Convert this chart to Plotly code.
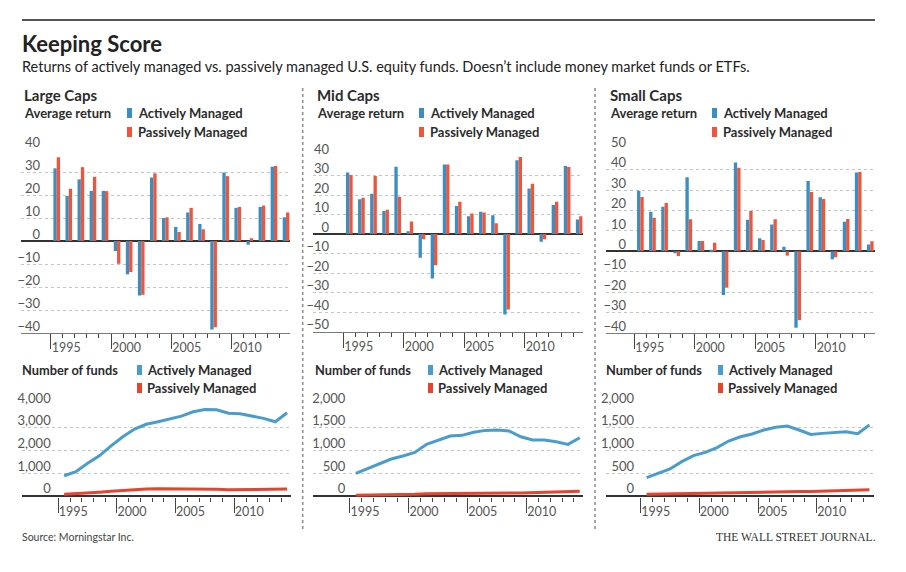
import plotly.graph_objects as go

# ---------------- data ----------------
years = list(range(1995, 2015))
label_years = [1995, 2000, 2005, 2010]

large_active_ret = [31.6, 19.6, 26.8, 21.8, 21.8, -4.4, -14.5, -23.7, 27.6, 10.0, 6.1, 12.4, 7.4, -38.5, 29.8, 14.4, -1.6, 14.8, 32.3, 10.3]
large_passive_ret = [36.4, 22.7, 32.1, 27.9, 21.7, -9.9, -13.5, -23.4, 29.4, 10.3, 3.9, 14.4, 5.1, -37.5, 28.2, 14.8, 1.2, 15.4, 32.6, 12.4]
mid_active_ret = [31.5, 17.8, 20.7, 11.8, 34.5, 1.5, -12.1, -22.7, 35.7, 14.4, 9.1, 11.5, 9.6, -41.2, 37.8, 23.4, -3.9, 14.9, 34.9, 7.5]
mid_passive_ret = [30.3, 18.6, 29.7, 12.5, 19.1, 6.5, -2.7, -15.9, 35.7, 16.6, 10.6, 11.1, 5.5, -38.6, 39.5, 25.8, -2.7, 16.6, 34.4, 9.2]
small_active_ret = [29.7, 19.4, 21.9, -0.7, 36.3, 5.1, 0.8, -21.4, 43.5, 15.5, 6.4, 13.2, 2.3, -37.4, 34.5, 26.5, -3.9, 14.5, 38.6, 3.3]
small_passive_ret = [26.6, 16.5, 23.7, -2.3, 15.7, 5.1, 4.2, -17.8, 41.0, 19.8, 5.6, 15.7, -2.1, -33.7, 29.1, 25.7, -2.9, 15.8, 38.9, 4.9]

large_active_funds = [880, 1060, 1430, 1760, 2200, 2600, 2940, 3150, 3260, 3380, 3510, 3700, 3800, 3790, 3640, 3610, 3510, 3410, 3260, 3660]
large_passive_funds = [60, 80, 110, 150, 190, 230, 270, 290, 300, 300, 300, 300, 310, 280, 260, 260, 260, 260, 270, 290]
mid_active_funds = [492, 603, 698, 808, 875, 955, 1132, 1220, 1316, 1330, 1397, 1440, 1448, 1426, 1300, 1227, 1227, 1190, 1132, 1279]
mid_passive_funds = [10, 12, 15, 20, 25, 30, 40, 45, 50, 55, 55, 60, 60, 60, 60, 65, 70, 80, 90, 100]
small_active_funds = [397, 492, 588, 750, 882, 955, 1059, 1205, 1300, 1360, 1448, 1507, 1536, 1448, 1352, 1374, 1396, 1411, 1367, 1558]
small_passive_funds = [30, 35, 40, 50, 55, 60, 65, 75, 80, 85, 90, 95, 100, 90, 90, 95, 100, 110, 120, 130]

panel_titles = ["Large Caps", "Mid Caps", "Small Caps"]
series_names = ["Actively Managed", "Passively Managed"]

# ---------------- styling ----------------
W, H = 906, 572
def fx(px): return px / W
def fy(py): return 1 - py / H

BLUE = "#3a8ec2"
RED = "#f1533b"
LBLUE = "#4a9dcb"
LRED = "#e8432d"
TXT = "#2b2b2b"
TICK = "#555555"
GRID = "#c4c4c4"
FONT = "Lato"

fig = go.Figure()

bar_sets = [(large_active_ret, large_passive_ret), (mid_active_ret, mid_passive_ret), (small_active_ret, small_passive_ret)]
fund_sets = [(large_active_funds, large_passive_funds), (mid_active_funds, mid_passive_funds), (small_active_funds, small_passive_funds)]

# layout geometry per column (pixels)
bar_geo = [
    dict(xl=21, xr=290, xrange=[1992.04, 2014.33], ytop=149, ybot=333, yrange=[-40, 40], stand=-20),
    dict(xl=313, xr=582.7, xrange=[1992.0, 2014.29], ytop=156, ybot=331.7, yrange=[-50, 40], stand=-17),
    dict(xl=606, xr=875, xrange=[1992.16, 2014.39], ytop=149.3, ybot=333, yrange=[-40, 50], stand=-21),
]
line_geo = [
    dict(xl=21.7, xr=290.7, xrange=[1991.38, 2014.31], ytop=405, ybot=496.8, yrange=[-50, 4000], dtick=1000, stand=-30),
    dict(xl=313.3, xr=583.3, xrange=[1991.39, 2014.3], ytop=405, ybot=496.8, yrange=[-25, 2000], dtick=500, stand=-33),
    dict(xl=606, xr=874, xrange=[1991.54, 2014.39], ytop=405, ybot=496.8, yrange=[-25, 2000], dtick=500, stand=-29),
]

major_ticks = [y - 0.5 for y in label_years]
minor_ticks = [y - 0.5 for y in years]

def xaxis_cfg(geo, anchor, showline):
    return dict(
        domain=[fx(geo["xl"]), fx(geo["xr"])], range=geo["xrange"], anchor=anchor, automargin=False,
        showgrid=False, zeroline=False, showline=showline, linecolor="#7a7a7a", linewidth=1,
        tickmode="array", tickvals=major_ticks, ticktext=[str(y) for y in label_years],
        ticks="outside", ticklen=15, tickwidth=1, tickcolor="#444",
        minor=dict(tickmode="array", tickvals=minor_ticks, ticks="outside", ticklen=4,
                   tickwidth=1, tickcolor="#444", showgrid=False),
        ticklabelposition="outside right", ticklabelstandoff=3, ticklabelshift=0,
        tickfont=dict(family=FONT, size=12.5, color=TICK), fixedrange=True,
    )

def yaxis_cfg(geo, anchor, dtick, fmt=None):
    d = dict(
        domain=[fy(geo["ybot"]), fy(geo["ytop"])], range=geo["yrange"], anchor=anchor, automargin=False,
        tickmode="linear", tick0=0, dtick=dtick,
        showgrid=True, gridcolor=GRID, gridwidth=1, griddash="dot",
        zeroline=True, zerolinecolor="#333", zerolinewidth=1.5,
        showline=False, ticks="",
        ticklabelposition="outside", ticklabelstandoff=geo["stand"], ticklabelshift=-7,
        tickfont=dict(family=FONT, size=13, color=TICK), fixedrange=True,
    )
    if fmt:
        d["tickformat"] = fmt
    return d

layout_axes = {}
for i in range(3):
    bx = f"x{2*i+1}" if i > 0 else "x"
    by = f"y{2*i+1}" if i > 0 else "y"
    lx = f"x{2*i+2}"
    ly = f"y{2*i+2}"
    act, pas = bar_sets[i]
    fig.add_trace(go.Bar(x=years, y=act, name=series_names[0], marker=dict(color=BLUE, line=dict(width=0)),
                         xaxis=bx, yaxis=by, showlegend=False))
    fig.add_trace(go.Bar(x=years, y=pas, name=series_names[1], marker=dict(color=RED, line=dict(width=0)),
                         xaxis=bx, yaxis=by, showlegend=False))
    fa, fp = fund_sets[i]
    fig.add_trace(go.Scatter(x=years, y=fp, mode="lines", name=series_names[1], line=dict(color=LRED, width=3),
                             xaxis=lx, yaxis=ly, showlegend=False))
    fig.add_trace(go.Scatter(x=years, y=fa, mode="lines", name=series_names[0], line=dict(color=LBLUE, width=3),
                             xaxis=lx, yaxis=ly, showlegend=False))

    bxk = "xaxis" if i == 0 else f"xaxis{2*i+1}"
    byk = "yaxis" if i == 0 else f"yaxis{2*i+1}"
    layout_axes[bxk] = xaxis_cfg(bar_geo[i], by, True)
    layout_axes[byk] = yaxis_cfg(bar_geo[i], bx, 10)
    layout_axes[f"xaxis{2*i+2}"] = xaxis_cfg(line_geo[i], ly, False)
    layout_axes[f"yaxis{2*i+2}"] = yaxis_cfg(line_geo[i], lx, line_geo[i]["dtick"], ",")

fig.update_layout(**layout_axes)

ann = []
shapes = []
def text(x, y, s, size, bold=False, color=TXT, family=FONT, xanchor="left"):
    ann.append(dict(xref="paper", yref="paper", x=fx(x), y=fy(y), text=(f"<b>{s}</b>" if bold else s),
                    showarrow=False, xanchor=xanchor, yanchor="middle",
                    font=dict(family=family, size=size, color=color)))

def rect(x0, y0, x1, y1, color):
    shapes.append(dict(type="rect", xref="paper", yref="paper", x0=fx(x0), x1=fx(x1), y0=fy(y1), y1=fy(y0),
                       fillcolor=color, line=dict(width=0)))

# header
shapes.append(dict(type="line", xref="paper", yref="paper", x0=fx(22), x1=fx(875), y0=fy(20), y1=fy(20),
                   line=dict(color="#555", width=2)))
text(20, 43, "Keeping Score", 22, bold=True, color="#222")
text(20, 66, "Returns of actively managed vs. passively managed U.S. equity funds. Doesn\u2019t include money market funds or ETFs.", 14.5, color="#222")

col_left = [22, 315, 608]
leg_top_sq = [127, 419, 712]
leg_bot_sq = [137, 428, 718]
bot_left = [20, 313, 604]
for i in range(3):
    text(col_left[i], 95, panel_titles[i], 15, bold=True)
    text(col_left[i], 113, "Average return", 13, bold=True)
    rect(leg_top_sq[i], 108, leg_top_sq[i] + 5, 118, BLUE)
    rect(leg_top_sq[i], 127, leg_top_sq[i] + 5, 137, RED)
    text(leg_top_sq[i] + 9, 113, series_names[0], 13, bold=True)
    text(leg_top_sq[i] + 9, 132, series_names[1], 13, bold=True)
    text(bot_left[i], 370, "Number of funds", 12.8, bold=True)
    rect(leg_bot_sq[i], 365, leg_bot_sq[i] + 5, 375, LBLUE)
    rect(leg_bot_sq[i], 383, leg_bot_sq[i] + 5, 393, LRED)
    text(leg_bot_sq[i] + 8, 370, series_names[0], 13, bold=True)
    text(leg_bot_sq[i] + 8, 388, series_names[1], 13, bold=True)

# separators
for sx in (302.7, 595):
    shapes.append(dict(type="line", xref="paper", yref="paper", x0=fx(sx), x1=fx(sx), y0=fy(88), y1=fy(530),
                       line=dict(color="#8a8a8a", width=1.5, dash="dot")))

# footer
text(20, 537, "Source: Morningstar Inc.", 10.5, color="#444")
text(878, 537, "THE WALL STREET JOURNAL.", 11.5, color="#333", family="Liberation Serif", xanchor="right")

fig.update_layout(
    width=W, height=H, margin=dict(l=0, r=0, t=0, b=0, pad=0, autoexpand=False),
    paper_bgcolor="white", plot_bgcolor="white",
    barmode="group", bargap=0.45, bargroupgap=0.0,
    annotations=ann, shapes=shapes, showlegend=False,
    font=dict(family=FONT),
)

fig.write_html("out.html", config={"displayModeBar": False},
               post_script="document.body.style.margin='0';document.body.style.padding='0';")
